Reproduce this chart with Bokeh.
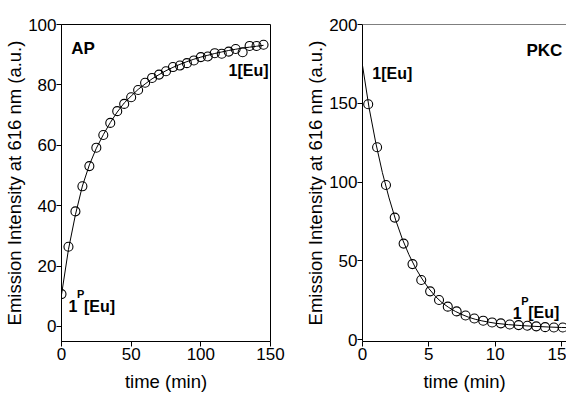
from bokeh.plotting import figure
from bokeh.models import FixedTicker, Range1d, Label, Span
from bokeh.layouts import row
from bokeh.embed import file_html
from bokeh.resources import INLINE

# ---------------- data ----------------
ap_time = [0, 5, 10, 15, 20, 25, 30, 35, 40, 45, 50, 55, 60, 65, 70, 75, 80, 85,
           90, 95, 100, 105, 110, 115, 120, 125, 130, 135, 140, 145]
ap_signal = [10.7, 26.4, 38.1, 46.4, 53.1, 59.2, 63.4, 67.4, 71.3, 73.7, 75.9, 78.3,
             80.7, 82.3, 83.4, 84.5, 85.9, 86.4, 87.2, 88.1, 89.2, 89.4, 90.5, 90.3,
             91.0, 91.9, 90.8, 92.9, 92.9, 93.3]
ap_fit_time = [0, 5, 10, 15, 20, 25, 30, 35, 40, 45, 50, 55, 60, 65, 70, 75, 80, 85,
               90, 95, 100, 105, 110, 115, 120, 125, 130, 135, 140, 145]
ap_fit = [10.5, 25.5, 37.0, 46.5, 53.5, 59.0, 63.5, 67.5, 71.0, 74.0, 76.3, 78.5,
          80.3, 82.0, 83.4, 84.7, 85.8, 86.8, 87.7, 88.5, 89.2, 89.8, 90.4, 90.9,
          91.4, 91.8, 92.2, 92.5, 92.8, 93.1]

pkc_time = [0.43, 1.10, 1.77, 2.43, 3.10, 3.77, 4.43, 5.10, 5.77, 6.43, 7.10, 7.77,
            8.43, 9.10, 9.77, 10.43, 11.10, 11.77, 12.43, 13.10, 13.77, 14.43, 15.10]
pkc_signal = [149.4, 122.1, 98.2, 77.5, 61.0, 48.0, 37.9, 30.7, 25.2, 21.0, 18.0, 15.4,
              13.5, 12.1, 11.0, 10.4, 9.7, 9.3, 8.9, 8.5, 8.0, 7.8, 7.8]
pkc_fit_time = [0, 0.5, 1, 1.5, 2, 2.5, 3, 3.5, 4, 4.5, 5, 5.5, 6, 6.5, 7, 7.5, 8, 8.5,
                9, 9.5, 10, 11, 12, 13, 14, 15, 15.5]
pkc_fit = [174, 147, 125, 106, 90, 76, 64, 54, 45.5, 38.5, 32.5, 27.5, 23.5, 20.5, 18,
           16, 14.3, 13, 12, 11.2, 10.5, 9.6, 9.0, 8.5, 8.1, 7.8, 7.7]

ap_xticks = [0, 50, 100, 150]
ap_yticks = [0, 20, 40, 60, 80, 100]
pkc_xticks = [0, 5, 10, 15]
pkc_yticks = [0, 50, 100, 150, 200]

FONT = "Liberation Sans"
Y_TITLE = "Emission Intensity at 616 nm (a.u.)"
X_TITLE = "time (min)"


def style(p):
    p.grid.visible = False
    p.background_fill_color = "white"
    p.border_fill_color = "white"
    for ax in (p.xaxis[0], p.yaxis[0]):
        ax.axis_line_color = "black"
        ax.axis_line_width = 1
        ax.major_tick_line_color = "black"
        ax.major_tick_in = 0
        ax.major_tick_out = 5
        ax.minor_tick_line_color = None
        ax.major_label_text_font = FONT
        ax.major_label_text_font_size = "17px"
        ax.major_label_text_color = "black"
        ax.axis_label_text_font = FONT
        ax.axis_label_text_font_size = "18.5px"
        ax.axis_label_text_font_style = "normal"
        ax.axis_label_text_color = "black"
        ax.major_label_standoff = 1
    p.xaxis[0].axis_label_standoff = 8
    p.yaxis[0].axis_label_standoff = 0
    p.yaxis[0].major_label_standoff = 0


def lab(p, x, y, text, size="16px", align="left", xo=0, yo=0):
    p.add_layout(Label(x=x, y=y, text=text, x_offset=xo, y_offset=yo,
                       text_font=FONT, text_font_style="bold",
                       text_font_size=size, text_align=align,
                       text_baseline="alphabetic", text_color="black"))


# ---------------- left panel (AP) ----------------
p1 = figure(width=302, height=394, output_backend="svg", toolbar_location=None,
            x_range=Range1d(0, 150), y_range=Range1d(-5, 100),
            min_border_left=61, min_border_right=32, min_border_top=24,
            min_border_bottom=53)
style(p1)
p1.outline_line_color = "black"
p1.outline_line_width = 1
p1.xaxis.ticker = FixedTicker(ticks=ap_xticks)
p1.yaxis.ticker = FixedTicker(ticks=ap_yticks)
p1.xaxis.axis_label = X_TITLE
p1.yaxis.axis_label = Y_TITLE
p1.line(ap_fit_time, ap_fit, line_color="black", line_width=1)
p1.scatter(ap_time, ap_signal, marker="circle", size=9, fill_color=None,
           line_color="black", line_width=1.1)
lab(p1, 7.0, 91.9, "AP", size="17px")
lab(p1, 148.6, 84.6, "1[Eu]", align="right")
lab(p1, 5.0, 6.6, "1")
lab(p1, 5.0, 6.6, "P", size="11px", xo=8.5, yo=12)
lab(p1, 5.0, 6.6, "[Eu]", xo=15.5)

# ---------------- right panel (PKC) ----------------
p2 = figure(width=264, height=394, output_backend="svg", toolbar_location=None,
            x_range=Range1d(0, 15.38), y_range=Range1d(-1.1, 200),
            min_border_left=60, min_border_right=0, min_border_top=24,
            min_border_bottom=53)
style(p2)
p2.outline_line_color = None
p2.add_layout(Span(location=200, dimension="width", line_color="black", line_width=1))
p2.xaxis.ticker = FixedTicker(ticks=pkc_xticks)
p2.yaxis.ticker = FixedTicker(ticks=pkc_yticks)
p2.xaxis.axis_label = X_TITLE
p2.yaxis.axis_label = Y_TITLE
p2.line(pkc_fit_time, pkc_fit, line_color="black", line_width=1)
p2.scatter(pkc_time, pkc_signal, marker="circle", size=9, fill_color=None,
           line_color="black", line_width=1.1)
lab(p2, 15.07, 183.5, "PKC", size="17px", align="right")
lab(p2, 0.74, 168.9, "1[Eu]")
lab(p2, 11.32, 17.1, "1")
lab(p2, 11.32, 17.1, "P", size="11px", xo=8.5, yo=12)
lab(p2, 11.32, 17.1, "[Eu]", xo=15.5)

layout = row(p1, p2)
open("out.html", "w").write(file_html(layout, INLINE))
